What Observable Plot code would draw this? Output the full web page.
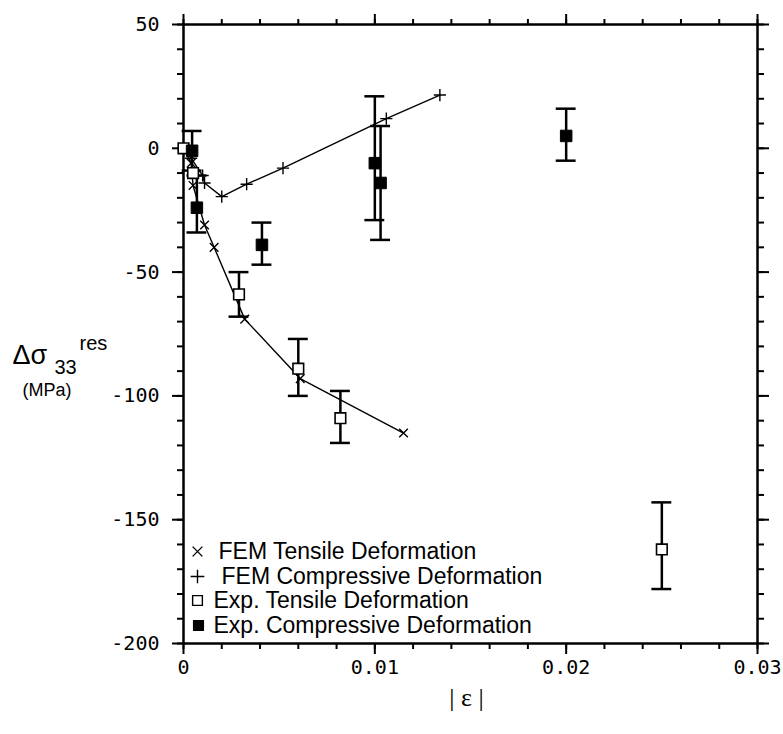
<!DOCTYPE html>
<html><head><meta charset="utf-8">
<script src="https://cdn.jsdelivr.net/npm/d3@7"></script>
<script src="https://cdn.jsdelivr.net/npm/@observablehq/plot@0.6"></script>
<style>body{margin:0;background:#fff}</style>
</head><body><div id="chart"></div>
<script>
// ---- data ----
const femTensileX = [0, 0.0004, 0.0005, 0.0011, 0.0016, 0.0032, 0.0061, 0.0115];
const femTensileY = [0, -6, -15, -31, -40, -69, -93, -115];
const femCompX = [0, 0.0004, 0.001, 0.0011, 0.002, 0.0033, 0.0052, 0.0106, 0.0134];
const femCompY = [0, -4, -11, -14, -19.5, -14.5, -8, 12, 21.5];
const expTensX  = [0, 0.0005, 0.0029, 0.006, 0.0082, 0.025];
const expTensY  = [0, -10, -59, -89, -109, -162];
const expTensLo = [null, null, -68, -100, -119, -178];
const expTensHi = [null, null, -50, -77, -98, -143];
const expCompX  = [0.00045, 0.0007, 0.0041, 0.0100, 0.0103, 0.0200];
const expCompY  = [-1, -24, -39, -6, -14, 5];
const expCompLo = [-9, -34, -47, -29, -37, -5];
const expCompHi = [7, -11, -30, 21, 9, 16];
const xMajorTicks = [0, 0.01, 0.02, 0.03];
const xMinorTicks = [0, 0.002, 0.004, 0.006, 0.008, 0.01, 0.012, 0.014, 0.016, 0.018, 0.02, 0.022, 0.024, 0.026, 0.028, 0.03];
const yMajorTicks = [50, 0, -50, -100, -150, -200];
const yMinorTicks = [50, 40, 30, 20, 10, 0, -10, -20, -30, -40, -50, -60, -70, -80, -90, -100, -110, -120, -130, -140, -150, -160, -170, -180, -190, -200];
const legendLabels = ["FEM Tensile Deformation", "FEM Compressive Deformation", "Exp. Tensile Deformation", "Exp. Compressive Deformation"];
const legendSymbols = ["times", "plus", "square", "square"];
const legendFills = ["none", "none", "white", "black"];

// ---- tables ----
const femT = femTensileX.map((x, i) => ({x, y: femTensileY[i]}));
const femC = femCompX.map((x, i) => ({x, y: femCompY[i]}));
const expT = expTensX.map((x, i) => ({x, y: expTensY[i], lo: expTensLo[i], hi: expTensHi[i]}));
const expC = expCompX.map((x, i) => ({x, y: expCompY[i], lo: expCompLo[i], hi: expCompHi[i]}));
const errs = [...expT, ...expC].filter(d => d.lo != null);

// ---- styling ----
const cap = 0.00052;
const tickFont = "DejaVu Sans Mono";
const xFmt = d => d === 0 ? "0" : d3.format(".2f")(d);
const blank = () => "";
const legendRowDy = [-92, -67, -43, -18];
const legendMarkDx = [14, 14, 14, 15];
const legendTextDx = [35, 38, 30, 30];

const legendMarks = legendLabels.flatMap((lab, i) => [
  Plot.dot([lab], {frameAnchor: "bottom-left", dx: legendMarkDx[i], dy: legendRowDy[i],
    symbol: legendSymbols[i], r: legendSymbols[i] === "square" ? 5.5 : 4.5,
    stroke: "black", strokeWidth: 1.4, fill: legendFills[i]}),
  Plot.text([lab], {frameAnchor: "bottom-left", lineAnchor: "middle", dx: legendTextDx[i], dy: legendRowDy[i],
    text: d => d, textAnchor: "start", fontSize: 23, fill: "black"})
]);

const ax = (fn, anchor, ticks, size, fmt, pad = 6) => fn({anchor, ticks, tickSize: size, tickFormat: fmt, label: null,
  strokeWidth: 2, tickPadding: pad, fontSize: 20, fontFamily: tickFont});

const chart = Plot.plot({
  width: 783, height: 734,
  marginLeft: 183, marginRight: 26, marginTop: 24, marginBottom: 91,
  style: {fontFamily: "Liberation Sans", background: "white", color: "black"},
  x: {domain: [0, 0.03]},
  y: {domain: [-200, 50]},
  marks: [
    Plot.frame({stroke: "black", strokeWidth: 2.5}),
    ax(Plot.axisX, "bottom", xMinorTicks, 6, blank),
    ax(Plot.axisX, "bottom", xMajorTicks, 11, xFmt, 5),
    ax(Plot.axisX, "top", xMinorTicks, 6, blank),
    ax(Plot.axisX, "top", xMajorTicks, 11, blank),
    ax(Plot.axisY, "left", yMinorTicks, 6, blank),
    ax(Plot.axisY, "left", yMajorTicks, 11, d => String(d), 13),
    ax(Plot.axisY, "right", yMinorTicks, 6, blank),
    ax(Plot.axisY, "right", yMajorTicks, 11, blank),
    // FEM lines
    Plot.line(femT, {x: "x", y: "y", stroke: "black", strokeWidth: 1.4}),
    Plot.dot(femT, {x: "x", y: "y", symbol: "times", r: 4, stroke: "black", strokeWidth: 1.4}),
    Plot.line(femC, {x: "x", y: "y", stroke: "black", strokeWidth: 1.4}),
    Plot.dot(femC, {x: "x", y: "y", symbol: "plus", r: 4, stroke: "black", strokeWidth: 1.4}),
    // error bars
    Plot.ruleX(errs, {x: "x", y1: "lo", y2: "hi", stroke: "black", strokeWidth: 2.5}),
    Plot.ruleY(errs, {y: "lo", x1: d => d.x - cap, x2: d => d.x + cap, stroke: "black", strokeWidth: 2.5}),
    Plot.ruleY(errs, {y: "hi", x1: d => d.x - cap, x2: d => d.x + cap, stroke: "black", strokeWidth: 2.5}),
    // experimental points
    Plot.dot(expT, {x: "x", y: "y", symbol: "square", r: 6, fill: "white", stroke: "black", strokeWidth: 1.6}),
    Plot.dot(expC, {x: "x", y: "y", symbol: "square", r: 6.5, fill: "black", stroke: "black", strokeWidth: 1}),
    // legend
    ...legendMarks,
    // axis labels
    Plot.text(["Δσ"], {frameAnchor: "left", lineAnchor: "middle", dx: -171, dy: 21, text: d => d, textAnchor: "start", fontSize: 27, fill: "black"}),
    Plot.text(["33"], {frameAnchor: "left", lineAnchor: "middle", dx: -129, dy: 34, text: d => d, textAnchor: "start", fontSize: 20, fill: "black"}),
    Plot.text(["res"], {frameAnchor: "left", lineAnchor: "middle", dx: -104, dy: 10, text: d => d, textAnchor: "start", fontSize: 20, fill: "black"}),
    Plot.text(["(MPa)"], {frameAnchor: "left", lineAnchor: "middle", dx: -161, dy: 56, text: d => d, textAnchor: "start", fontSize: 18, fill: "black"}),
    Plot.text(["| ε |"], {frameAnchor: "bottom", lineAnchor: "middle", dx: -4, dy: 54, text: d => d, fontSize: 26, fontFamily: "Liberation Serif", fill: "black"})
  ]
});
document.getElementById("chart").appendChild(chart);
</script>
</body></html>
